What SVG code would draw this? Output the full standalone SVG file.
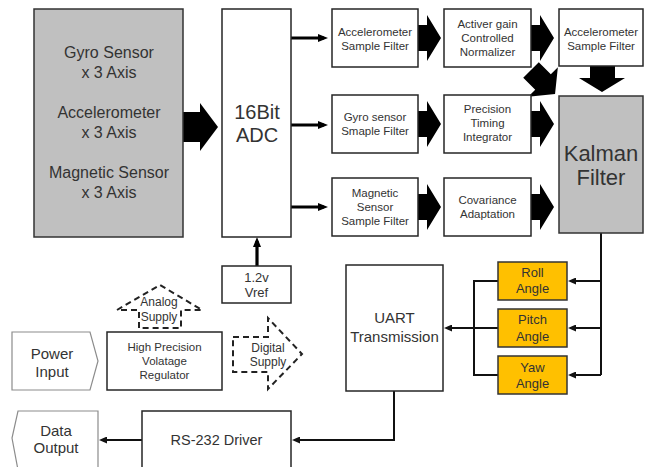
<svg xmlns="http://www.w3.org/2000/svg" xmlns:xlink="http://www.w3.org/1999/xlink" width="649" height="467" viewBox="0 0 649 467">
<style>
text{font-family:"Liberation Sans",Arial,sans-serif;fill:#333;text-anchor:middle}
.box{fill:#fff;stroke:#262626;stroke-width:1.5}
.gray{fill:#c0c0c0;stroke:#333;stroke-width:1.5}
.orange{fill:#ffc000;stroke:#333;stroke-width:1.5}
.io{fill:#fff;stroke:#8c8c8c;stroke-width:1.2}
.dash{fill:#fff;stroke:#222;stroke-width:2;stroke-dasharray:6 4}
.ln{fill:none;stroke:#111;stroke-width:2}
.thick{fill:none;stroke:#000;stroke-width:3.2}
.blk{fill:#000}
.s16{font-size:16px}.s11{font-size:11.5px}.s13{font-size:13px}.s15{font-size:15px}
</style>
<defs>
<marker id="ah" viewBox="0 0 10 8" refX="6" refY="4" markerWidth="10" markerHeight="8" markerUnits="userSpaceOnUse" orient="auto"><path d="M0,0 L10,4 L0,8 Z" fill="#000"/></marker>
<marker id="ahs" viewBox="0 0 8 7" refX="5" refY="3.5" markerWidth="8" markerHeight="7" markerUnits="userSpaceOnUse" orient="auto"><path d="M0,0 L8,3.5 L0,7 Z" fill="#111"/></marker>
<path id="blk" d="M0,-13 H9 V-23 L23,0 L9,23 V13 H0 Z"/>
<path id="blkd" d="M0,-11 H17 V-21 L34,0 L17,21 V11 H0 Z"/>
</defs>

<g id="connectors">
<path class="blk" d="M183,112 H200 V103 L218,127 L200,151 V142 H183 Z"/>
<line class="thick" x1="291" y1="38" x2="324" y2="38" marker-end="url(#ah)"/>
<line class="thick" x1="291" y1="125" x2="324" y2="125" marker-end="url(#ah)"/>
<line class="thick" x1="291" y1="207" x2="324" y2="207" marker-end="url(#ah)"/>
<use xlink:href="#blk" class="blk" x="418" y="38"/>
<use xlink:href="#blk" class="blk" x="531" y="38"/>
<use xlink:href="#blk" class="blk" x="418" y="124"/>
<use xlink:href="#blk" class="blk" x="531" y="124"/>
<use xlink:href="#blk" class="blk" x="418" y="207"/>
<use xlink:href="#blk" class="blk" x="531" y="207"/>
<use xlink:href="#blkd" class="blk" transform="translate(531,70) rotate(45)"/>
<path class="blk" d="M590,66 H615 V78 H625 L602,92 L579,78 H590 Z"/>
<line class="thick" x1="257" y1="266" x2="257" y2="241" marker-end="url(#ah)"/>
<polyline class="ln" points="601,233 601,375"/>
<line class="ln" x1="601" y1="281" x2="571" y2="281" marker-end="url(#ahs)"/>
<line class="ln" x1="601" y1="328" x2="571" y2="328" marker-end="url(#ahs)"/>
<line class="ln" x1="601" y1="375" x2="571" y2="375" marker-end="url(#ahs)"/>
<polyline class="ln" points="498,281 474,281 474,375 498,375"/>
<line class="ln" x1="498" y1="328" x2="447" y2="328" marker-end="url(#ahs)"/>
<polyline class="ln" points="394,391 394,440 295,440" marker-end="url(#ahs)"/>
<line class="ln" x1="142" y1="440" x2="102" y2="440" marker-end="url(#ahs)"/>
</g>

<g id="sensors">
<rect class="gray" x="34" y="9" width="149" height="228"/>
<text class="s16" x="109" y="58">Gyro Sensor</text>
<text class="s16" x="109" y="78">x 3 Axis</text>
<text class="s16" x="109" y="118">Accelerometer</text>
<text class="s16" x="109" y="138">x 3 Axis</text>
<text class="s16" x="109" y="178">Magnetic Sensor</text>
<text class="s16" x="109" y="198">x 3 Axis</text>
</g>

<g id="adc">
<rect class="box" x="222" y="9" width="69" height="228"/>
<text x="257" y="119" font-size="20">16Bit</text>
<text x="257" y="142" font-size="20">ADC</text>
</g>

<g id="acc-filter">
<rect class="box" x="332" y="9" width="86" height="58"/>
<text class="s11" x="375" y="36">Accelerometer</text>
<text class="s11" x="375" y="50">Sample Filter</text>
</g>

<g id="gain-normalizer">
<rect class="box" x="444" y="9" width="87" height="58"/>
<text class="s11" x="487.5" y="28">Activer gain</text>
<text class="s11" x="487.5" y="42">Controlled</text>
<text class="s11" x="487.5" y="56">Normalizer</text>
</g>

<g id="acc-filter-2">
<rect class="box" x="559" y="9" width="84" height="57"/>
<text class="s11" x="601" y="36">Accelerometer</text>
<text class="s11" x="601" y="50">Sample Filter</text>
</g>

<g id="gyro-filter">
<rect class="box" x="332" y="95" width="86" height="58"/>
<text class="s11" x="375" y="121">Gyro sensor</text>
<text class="s11" x="375" y="135">Smaple Filter</text>
</g>

<g id="timing-integrator">
<rect class="box" x="444" y="95" width="87" height="58"/>
<text class="s11" x="487.5" y="113">Precision</text>
<text class="s11" x="487.5" y="127">Timing</text>
<text class="s11" x="487.5" y="141">Integrator</text>
</g>

<g id="mag-filter">
<rect class="box" x="332" y="178" width="86" height="58"/>
<text class="s11" x="375" y="197">Magnetic</text>
<text class="s11" x="375" y="211">Sensor</text>
<text class="s11" x="375" y="225">Sample Filter</text>
</g>

<g id="covariance">
<rect class="box" x="444" y="178" width="87" height="58"/>
<text class="s11" x="487.5" y="204">Covariance</text>
<text class="s11" x="487.5" y="218">Adaptation</text>
</g>

<g id="kalman">
<rect class="gray" x="559" y="96" width="84" height="137"/>
<text x="601" y="161" font-size="22">Kalman</text>
<text x="601" y="185" font-size="22">Filter</text>
</g>

<g id="vref">
<rect class="box" x="222" y="266" width="69" height="37"/>
<text class="s13" x="256.5" y="281.5">1.2v</text>
<text class="s13" x="256.5" y="296.5">Vref</text>
</g>

<g id="analog-supply">
<path class="dash" d="M139,328 V310 H117 L160,285 L202,310 H181 V328 Z"/>
<text x="159" y="306" font-size="12">Analog</text>
<text x="159" y="321" font-size="12">Supply</text>
</g>

<g id="digital-supply">
<path class="dash" d="M233,337 H268 V318 L302,354 L268,389 V372 H233 Z"/>
<text x="268" y="352" font-size="12">Digital</text>
<text x="268" y="366" font-size="12">Supply</text>
</g>

<g id="power-input">
<path class="io" d="M12,332 H90 L98,361 L90,390 H12 Z"/>
<text class="s15" x="52" y="359">Power</text>
<text class="s15" x="52" y="377">Input</text>
</g>

<g id="regulator">
<rect class="box" x="107" y="332" width="115" height="58"/>
<text class="s11" x="164.5" y="351">High Precision</text>
<text class="s11" x="164.5" y="365">Volatage</text>
<text class="s11" x="164.5" y="379">Regulator</text>
</g>

<g id="uart">
<rect class="box" x="346" y="265" width="97" height="126"/>
<text class="s15" x="394.5" y="323">UART</text>
<text class="s15" x="394.5" y="342">Transmission</text>
</g>

<g id="roll">
<rect class="orange" x="498" y="262" width="69" height="38"/>
<text class="s13" x="532.5" y="277">Roll</text>
<text class="s13" x="532.5" y="293">Angle</text>
</g>

<g id="pitch">
<rect class="orange" x="498" y="309" width="69" height="38"/>
<text class="s13" x="532.5" y="323.5">Pitch</text>
<text class="s13" x="532.5" y="340.5">Angle</text>
</g>

<g id="yaw">
<rect class="orange" x="498" y="356" width="69" height="38"/>
<text class="s13" x="532.5" y="371.5">Yaw</text>
<text class="s13" x="532.5" y="387.5">Angle</text>
</g>

<g id="rs232">
<rect class="box" x="142" y="411" width="149" height="62"/>
<text x="216.5" y="445" font-size="14.5">RS-232 Driver</text>
</g>

<g id="data-output">
<path class="io" d="M98,411 H18 L12,438 L18,470 H98 Z"/>
<text class="s15" x="56" y="436">Data</text>
<text class="s15" x="56" y="453">Output</text>
</g>
</svg>
